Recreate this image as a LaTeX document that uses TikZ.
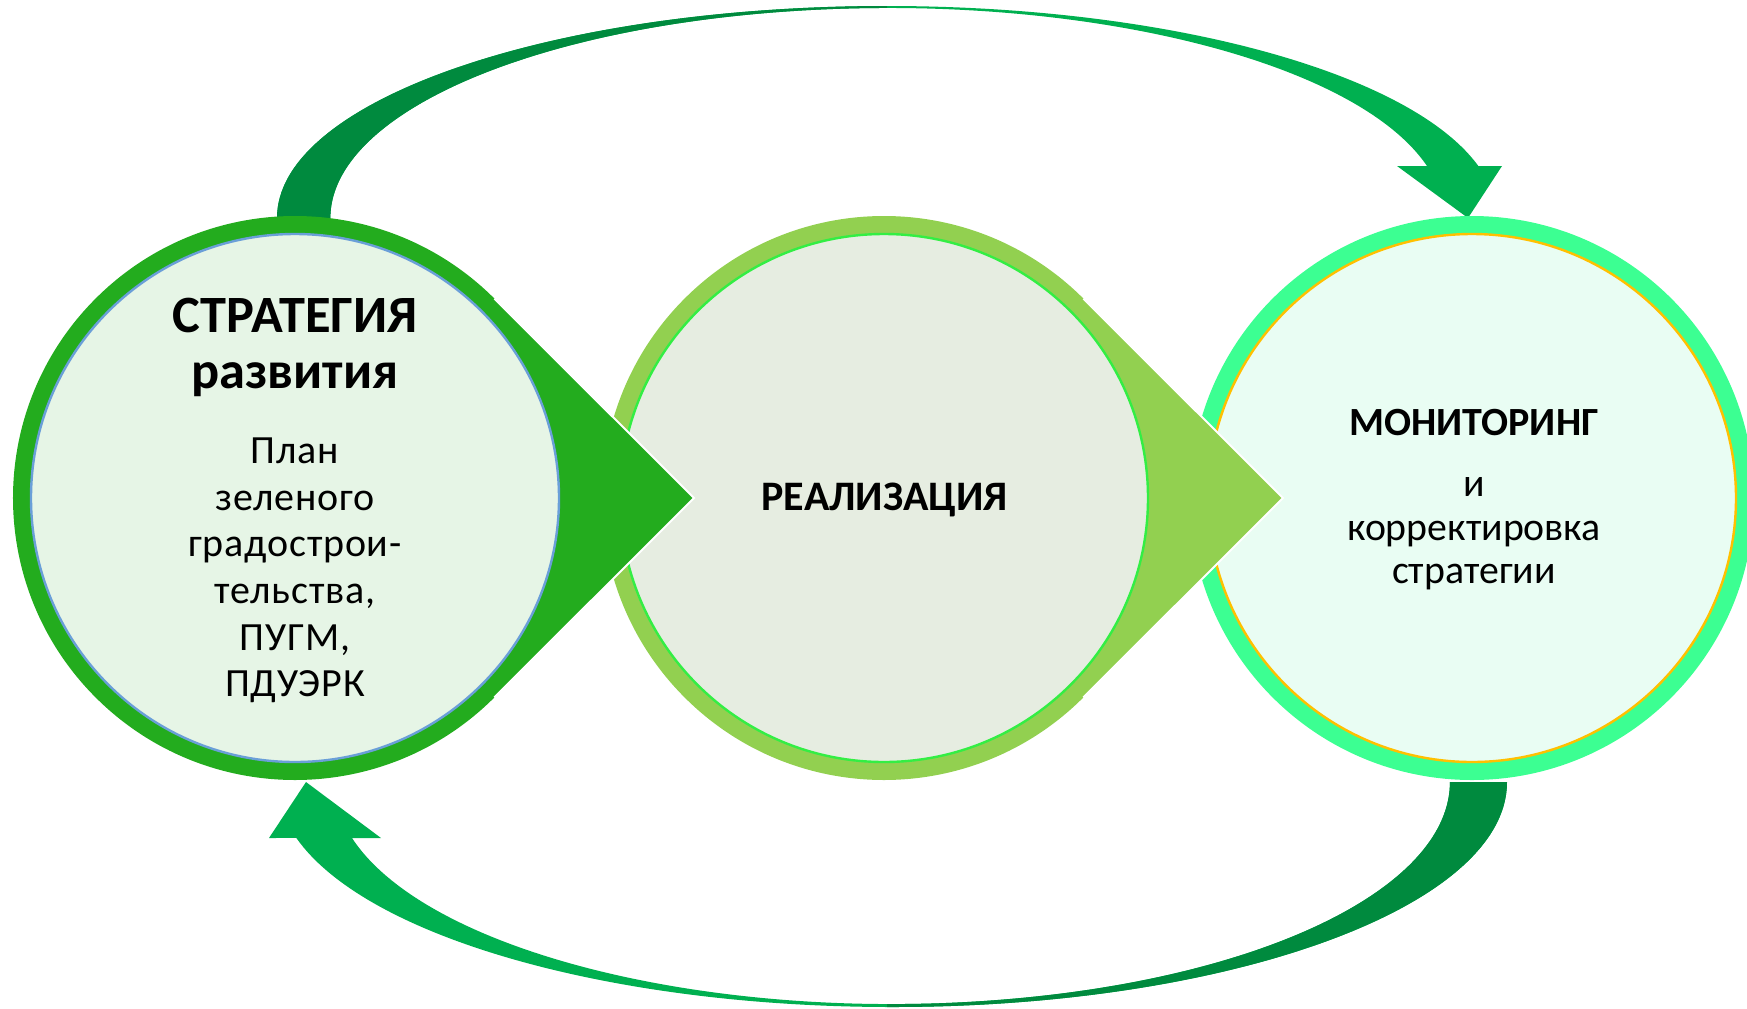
\documentclass[tikz,border=0pt]{standalone}
\usepackage{fontspec}
\setmainfont{Carlito}
\newfontfamily\spacedfont[LetterSpace=2]{Carlito}
\definecolor{arrowdark}{HTML}{008A3E}
\definecolor{arrowbright}{HTML}{00B050}
\definecolor{ringL}{HTML}{23AC1E}
\definecolor{ringM}{HTML}{92D050}
\definecolor{ringR}{HTML}{3CFF92}
\definecolor{fillL}{HTML}{E6F5E6}
\definecolor{fillM}{HTML}{E6EDE1}
\definecolor{fillR}{HTML}{E9FDF3}
\definecolor{lineL}{HTML}{6A9FD8}
\definecolor{lineM}{HTML}{33EE44}
\definecolor{lineR}{HTML}{FFC000}
\newcommand\TopArrowPath{(277,218) arc[start angle=180, end angle=345.8, x radius=610, y radius=212]
  -- (1502,166) -- (1468,218) -- (1397,166) -- (1427,166)
  arc[start angle=345.66, end angle=180, x radius=557, y radius=210] -- cycle}
\newcommand\BottomArrowPath{(1507,782) arc[start angle=0, end angle=165.6, x radius=615, y radius=225]
  -- (269,838) -- (306,782) -- (381,838) -- (352,838)
  arc[start angle=165.39, end angle=0, x radius=558, y radius=222] -- cycle}
\begin{document}
\begin{tikzpicture}[x=0.5pt,y=-0.5pt,
  tipedge/.style={draw=white,line width=1pt,line join=miter},
  innerdisc/.style={line width=1.2pt},
  headL/.style={font=\fontsize{26.2}{28}\selectfont\bfseries,inner sep=0pt,anchor=base},
  bodyL/.style={font=\spacedfont\fontsize{20}{23}\selectfont,inner sep=0pt,anchor=base},
  headM/.style={font=\fontsize{21}{24}\selectfont\bfseries,inner sep=0pt,anchor=base},
  headR/.style={font=\fontsize{20}{24}\selectfont\bfseries,inner sep=0pt,anchor=base},
  bodyR/.style={font=\fontsize{19.9}{22}\selectfont,inner sep=0pt,anchor=base}]
\useasboundingbox (0,0) rectangle (1747,1008);
\clip (0,0) rectangle (1747,1008);
% curved arrows
\fill[arrowbright] \TopArrowPath;
\begin{scope}
  \clip (0,0) rectangle (887,1008);
  \fill[arrowdark] \TopArrowPath;
\end{scope}
\fill[arrowbright] \BottomArrowPath;
\begin{scope}
  \clip (887,0) rectangle (1747,1008);
  \fill[arrowdark] \BottomArrowPath;
\end{scope}
% right circle
\coordinate (cR) at (1472,498);
\fill[ringR] (cR) circle[radius=282];
\draw[innerdisc,draw=lineR,fill=fillR] (cR) circle[radius=264];
% middle teardrop
\coordinate (cM) at (884,498);
\coordinate (tipM) at (1283,498);
\coordinate (upM) at (1083.4,298.6);
\coordinate (loM) at (1083.4,697.4);
\fill[ringM] (tipM) -- (loM) arc[start angle=45, end angle=315, radius=282] -- cycle;
\draw[tipedge] (upM) -- (tipM) -- (loM);
\draw[innerdisc,draw=lineM,fill=fillM] (cM) circle[radius=264];
% left teardrop
\coordinate (cL) at (295,498);
\coordinate (tipL) at (694,498);
\coordinate (upL) at (494.4,298.6);
\coordinate (loL) at (494.4,697.4);
\fill[ringL] (tipL) -- (loL) arc[start angle=45, end angle=315, radius=282] -- cycle;
\draw[tipedge] (upL) -- (tipL) -- (loL);
\draw[innerdisc,draw=lineL,fill=fillL] (cL) circle[radius=264];
% texts
\node[headL] (l1) at (295,332) {СТРАТЕГИЯ};
\node[headL] (l2) at (295,388) {развития};
\node[bodyL] (l3) at (295,463) {План};
\node[bodyL] (l4) at (295,510) {зеленого};
\node[bodyL] (l5) at (295,556) {градострои-};
\node[bodyL] (l6) at (295,603) {тельства,};
\node[bodyL] (l7) at (295,650) {ПУГМ,};
\node[bodyL] (l8) at (295,696) {ПДУЭРК};
\node[headM] (m1) at (884.5,510) {РЕАЛИЗАЦИЯ};
\node[headR] (r1) at (1474,435) {МОНИТОРИНГ};
\node[bodyR] (r2) at (1474,496) {и};
\node[bodyR] (r3) at (1474,540) {корректировка};
\node[bodyR] (r4) at (1474,583) {стратегии};
\end{tikzpicture}
\end{document}
